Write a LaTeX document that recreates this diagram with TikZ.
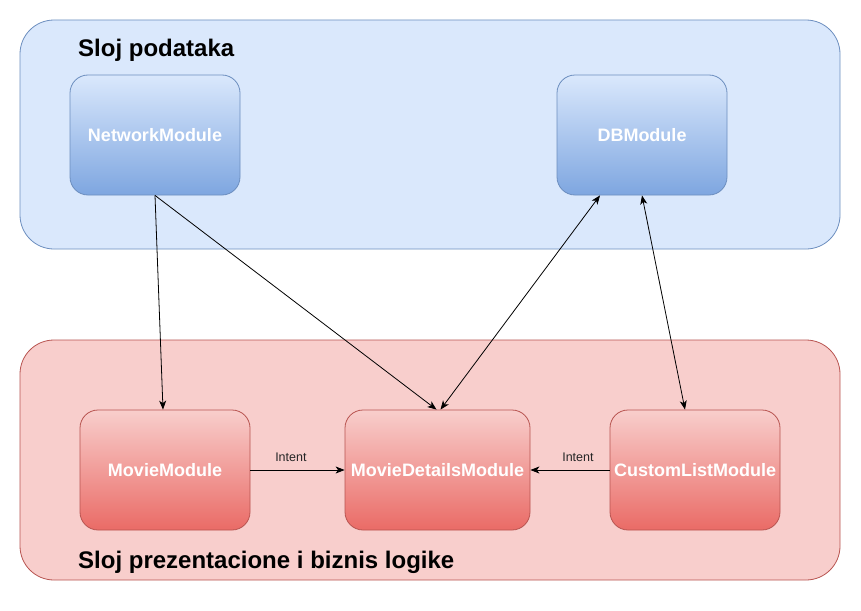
\documentclass[tikz,border=0pt]{standalone}
\usepackage{fontspec}
\setmainfont{Liberation Sans}
\usetikzlibrary{arrows.meta,calc}
\definecolor{bluefill}{HTML}{DAE8FC}
\definecolor{bluebot}{HTML}{7EA6E0}
\definecolor{bluestroke}{HTML}{6C8EBF}
\definecolor{redfill}{HTML}{F8CECC}
\definecolor{redbot}{HTML}{EA6B66}
\definecolor{redstroke}{HTML}{B85450}
\tikzset{
  container/.style={draw, line width=0.8pt, rounded corners=34pt, inner sep=0pt},
  modbox/.style={draw, line width=0.8pt, rounded corners=18pt, minimum height=120pt,
    inner sep=0pt, text=white, font=\fontsize{18}{21}\selectfont\bfseries},
  bluemod/.style={modbox, draw=bluestroke, top color=bluefill, bottom color=bluebot},
  redmod/.style={modbox, draw=redstroke, top color=redfill, bottom color=redbot},
  title/.style={anchor=west, inner sep=0pt, font=\fontsize{24}{28}\selectfont\bfseries},
  conn/.style={line width=0.8pt, -{Stealth[length=9pt,width=7pt,inset=2.5pt]}},
  bconn/.style={line width=0.8pt, {Stealth[length=9pt,width=7pt,inset=2.5pt]}-{Stealth[length=9pt,width=7pt,inset=2.5pt]}},
  lbl/.style={font=\fontsize{12.5}{14}\selectfont, text=black!85, inner sep=0pt}
}
\begin{document}
\begin{tikzpicture}[x=1pt,y=-1pt]
\useasboundingbox (0,0) rectangle (861,610);
\fill[white] (0,0) rectangle (861,610);
\node[container, draw=bluestroke, fill=bluefill, minimum width=820pt, minimum height=229pt] (top) at (430,134.5) {};
\node[container, draw=redstroke, fill=redfill, minimum width=820pt, minimum height=240pt] (bot) at (430,460) {};
\node[title] (t1) at (78,50) {Sloj podataka};
\node[title] (t2) at (78,562) {Sloj prezentacione i biznis logike};
\node[bluemod, minimum width=170pt] (net) at (155,135) {NetworkModule};
\node[bluemod, minimum width=170pt] (db) at (642,135) {DBModule};
\node[redmod, minimum width=170pt] (mm) at (165,470) {MovieModule};
\node[redmod, minimum width=185pt] (md) at (437.5,470) {MovieDetailsModule};
\node[redmod, minimum width=170pt] (cl) at (695,470) {CustomListModule};
\draw[conn] (net.south) -- ([xshift=-2pt]mm.north);
\draw[conn] (net.south) -- ([xshift=-1pt]md.north);
\draw[bconn] ([xshift=3pt]md.north) -- ([xshift=-42pt]db.south);
\draw[bconn] (db.south) -- ([xshift=-10pt]cl.north);
\draw[conn] (mm.east) -- node[lbl, above=8pt, pos=0.43] {Intent} (md.west);
\draw[conn] (cl.west) -- node[lbl, above=8pt, pos=0.4] {Intent} (md.east);
\end{tikzpicture}
\end{document}
